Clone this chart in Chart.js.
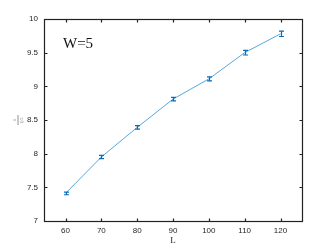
<!DOCTYPE html>
<html>
<head>
<meta charset="utf-8">
<script src="https://cdn.jsdelivr.net/npm/chart.js@4/dist/chart.umd.min.js"></script>
<style>
  html, body { margin: 0; padding: 0; background: #fff; }
  #wrap { width: 332px; height: 249px; }
</style>
</head>
<body>
<div id="wrap"><canvas id="c" width="332" height="249"></canvas></div>
<script>
// dados
const L_VALS = [60, 70, 80, 90, 100, 110, 120];
const Y_VALS = [7.41, 7.95, 8.39, 8.81, 9.11, 9.50, 9.78];
const Y_ERR = [0.02, 0.025, 0.025, 0.025, 0.03, 0.035, 0.04];
const X_TICKS = [60, 70, 80, 90, 100, 110, 120];
const Y_TICKS = [7, 7.5, 8, 8.5, 9, 9.5, 10];

const AZUL_LINHA = '#5aa6dc';
const AZUL_BARRA = '#0b6cb8';
const TXT = '#262626';

// caixa, ticks internos, barras de erro e textos
const extras = {
  id: 'extras',
  afterDraw(chart) {
    const { ctx, chartArea: a, scales: { x, y } } = chart;
    ctx.save();
    // barras de erro
    ctx.strokeStyle = AZUL_BARRA;
    ctx.lineWidth = 1.2;
    L_VALS.forEach((l, i) => {
      const px = Math.round(x.getPixelForValue(l)) + 0.5;
      const y1 = y.getPixelForValue(Y_VALS[i] - Y_ERR[i]);
      const y2 = y.getPixelForValue(Y_VALS[i] + Y_ERR[i]);
      ctx.beginPath();
      ctx.moveTo(px, y1); ctx.lineTo(px, y2);
      ctx.moveTo(px - 2.5, y1); ctx.lineTo(px + 2.5, y1);
      ctx.moveTo(px - 2.5, y2); ctx.lineTo(px + 2.5, y2);
      ctx.stroke();
    });
    // caixa
    ctx.strokeStyle = '#222';
    ctx.lineWidth = 1.2;
    const l = Math.round(a.left) + 0.5, r = Math.round(a.right) + 0.5;
    const t = Math.round(a.top) + 0.5, b = Math.round(a.bottom) + 0.5;
    ctx.strokeRect(l, t, r - l, b - t);
    ctx.beginPath();
    X_TICKS.forEach(v => {
      const px = Math.round(x.getPixelForValue(v)) + 0.5;
      ctx.moveTo(px, b); ctx.lineTo(px, b - 3);
      ctx.moveTo(px, t); ctx.lineTo(px, t + 3);
    });
    Y_TICKS.forEach(v => {
      const py = Math.round(y.getPixelForValue(v)) + 0.5;
      ctx.moveTo(l, py); ctx.lineTo(l + 3, py);
      ctx.moveTo(r, py); ctx.lineTo(r - 3, py);
    });
    ctx.stroke();
    // textos
    ctx.fillStyle = '#111';
    ctx.font = '15px "Liberation Serif"';
    ctx.textBaseline = 'middle';
    ctx.textAlign = 'left';
    ctx.fillText('W=5', 63, 44);
    ctx.fillStyle = TXT;
    ctx.font = '9px "Liberation Serif"';
    ctx.textAlign = 'center';
    ctx.fillText('L', (a.left + a.right) / 2, 241);
    // rotulo y: 1 / (xi/L), em fracao
    ctx.fillStyle = '#777';
    ctx.translate(18, (a.top + a.bottom) / 2);
    ctx.rotate(-Math.PI / 2);
    ctx.font = '5px "Liberation Serif"';
    ctx.fillText('1', 0, -3);
    ctx.fillRect(-5, -0.4, 10, 0.8);
    ctx.font = 'italic 5px "Liberation Serif"';
    ctx.fillText('ξ/L', 0, 3.5);
    ctx.restore();
  }
};

new Chart(document.getElementById('c'), {
  type: 'line',
  data: {
    datasets: [{
      data: L_VALS.map((l, i) => ({ x: l, y: Y_VALS[i] })),
      borderColor: AZUL_LINHA, borderWidth: 1, pointRadius: 0, tension: 0, fill: false
    }]
  },
  options: {
    responsive: false, animation: false, devicePixelRatio: 1,
    layout: { padding: { left: 0, right: 30, top: 19, bottom: 0 } },
    plugins: { legend: { display: false }, tooltip: { enabled: false } },
    scales: {
      x: {
        type: 'linear', min: 54, max: 126,
        afterBuildTicks: s => { s.ticks = X_TICKS.map(v => ({ value: v })); },
        afterFit: s => { s.height = 28; },
        grid: { display: false, drawTicks: false }, border: { display: false },
        ticks: { color: TXT, font: { family: 'Liberation Sans', size: 8 }, padding: 5, maxRotation: 0,
          callback: v => String(v) }
      },
      y: {
        min: 7, max: 10,
        afterBuildTicks: s => { s.ticks = Y_TICKS.map(v => ({ value: v })); },
        afterFit: s => { s.width = 44; },
        grid: { display: false, drawTicks: false }, border: { display: false },
        ticks: { color: TXT, font: { family: 'Liberation Sans', size: 8 }, padding: 6,
          callback: v => String(v) }
      }
    }
  },
  plugins: [extras]
});
</script>
</body>
</html>
